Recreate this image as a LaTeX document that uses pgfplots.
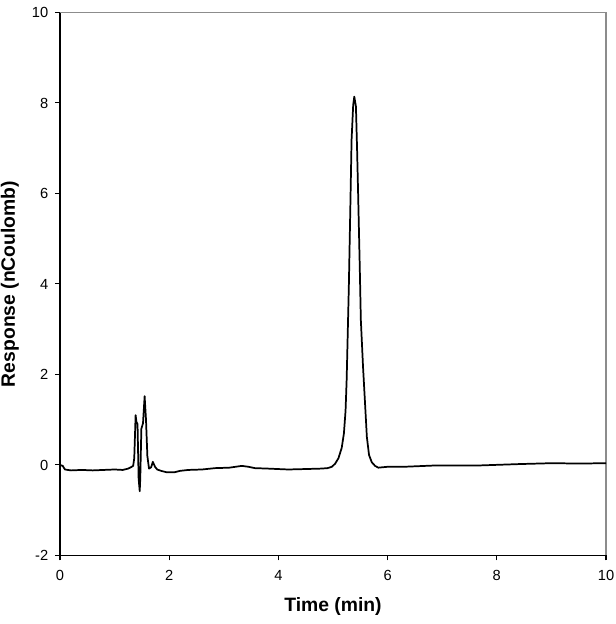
\documentclass[border=0pt]{standalone}
\usepackage{pgfplots}
\pgfplotsset{compat=1.18}
\usepackage{fontspec}
\setmainfont{Liberation Sans}
\begin{document}
\begin{tikzpicture}
\useasboundingbox (0,0) rectangle (462pt,468pt);
\begin{axis}[
  at={(45pt,51.4pt)}, anchor=south west,
  scale only axis, width=409.5pt, height=407.25pt,
  xmin=0, xmax=10, ymin=-2, ymax=10,
  axis x line*=bottom, axis y line*=left,
  axis line style={-, line width=1.1pt, black},
  xtick={0,2,4,6,8,10}, xticklabels={0,2,4,6,8,10},
  ytick={-2,0,2,4,6,8,10}, yticklabels={-2,0,2,4,6,8,10},
  tick align=outside, major tick length=3.75pt,
  tick style={line width=0.8pt, black},
  ticklabel style={font=\fontsize{11}{13}\selectfont},
  xticklabel style={yshift=-4pt},
  yticklabel style={xshift=-1.5pt},
  xlabel={Time (min)}, ylabel={Response (nCoulomb)},
  label style={font=\bfseries\fontsize{14.5}{16}\selectfont},
  xlabel style={at={(axis description cs:0.5,-0.0948)}, anchor=center},
  ylabel style={at={(axis description cs:-0.0916,0.5)}, anchor=center},
  clip=false,
]
\draw[line width=1.1pt, gray!90] (rel axis cs:0,1) -- (rel axis cs:1,1) -- (rel axis cs:1,0);
\addplot[black, line width=1.3pt, line join=round] coordinates {
(0.00,0.00)(0.05,-0.02)(0.09,-0.10)(0.2,-0.12)(0.4,-0.11)(0.6,-0.12)(0.8,-0.11)
(1.0,-0.10)(1.15,-0.11)(1.25,-0.08)(1.30,-0.05)(1.34,-0.02)(1.36,0.15)
(1.385,1.10)(1.40,0.95)(1.42,0.90)(1.44,-0.30)(1.46,-0.58)(1.47,-0.30)
(1.49,0.80)(1.52,0.92)(1.55,1.52)(1.575,1.00)(1.60,0.20)(1.63,-0.08)
(1.67,-0.05)(1.70,0.07)(1.74,-0.04)(1.78,-0.10)(1.85,-0.13)(1.95,-0.16)
(2.1,-0.16)(2.2,-0.13)(2.35,-0.11)(2.6,-0.10)(2.84,-0.07)(3.1,-0.06)
(3.33,-0.02)(3.45,-0.04)(3.57,-0.07)(3.8,-0.08)(4.18,-0.10)(4.5,-0.09)
(4.79,-0.08)(4.90,-0.07)(4.98,-0.04)
(5.04,0.03)(5.10,0.15)(5.16,0.38)(5.20,0.70)(5.23,1.20)(5.25,1.88)(5.29,3.94)(5.32,5.86)
(5.34,7.18)(5.37,7.96)(5.39,8.14)(5.42,7.92)(5.44,7.03)(5.46,6.00)(5.49,4.38)
(5.51,3.20)(5.55,2.17)(5.59,1.29)(5.62,0.62)(5.66,0.22)(5.71,0.06)(5.77,-0.02)
(5.83,-0.06)(6.0,-0.04)(6.3,-0.04)(6.9,-0.01)(7.7,-0.01)(8.42,0.02)(9.03,0.04)(9.5,0.03)(10.0,0.04)
};
\end{axis}
\end{tikzpicture}
\end{document}
